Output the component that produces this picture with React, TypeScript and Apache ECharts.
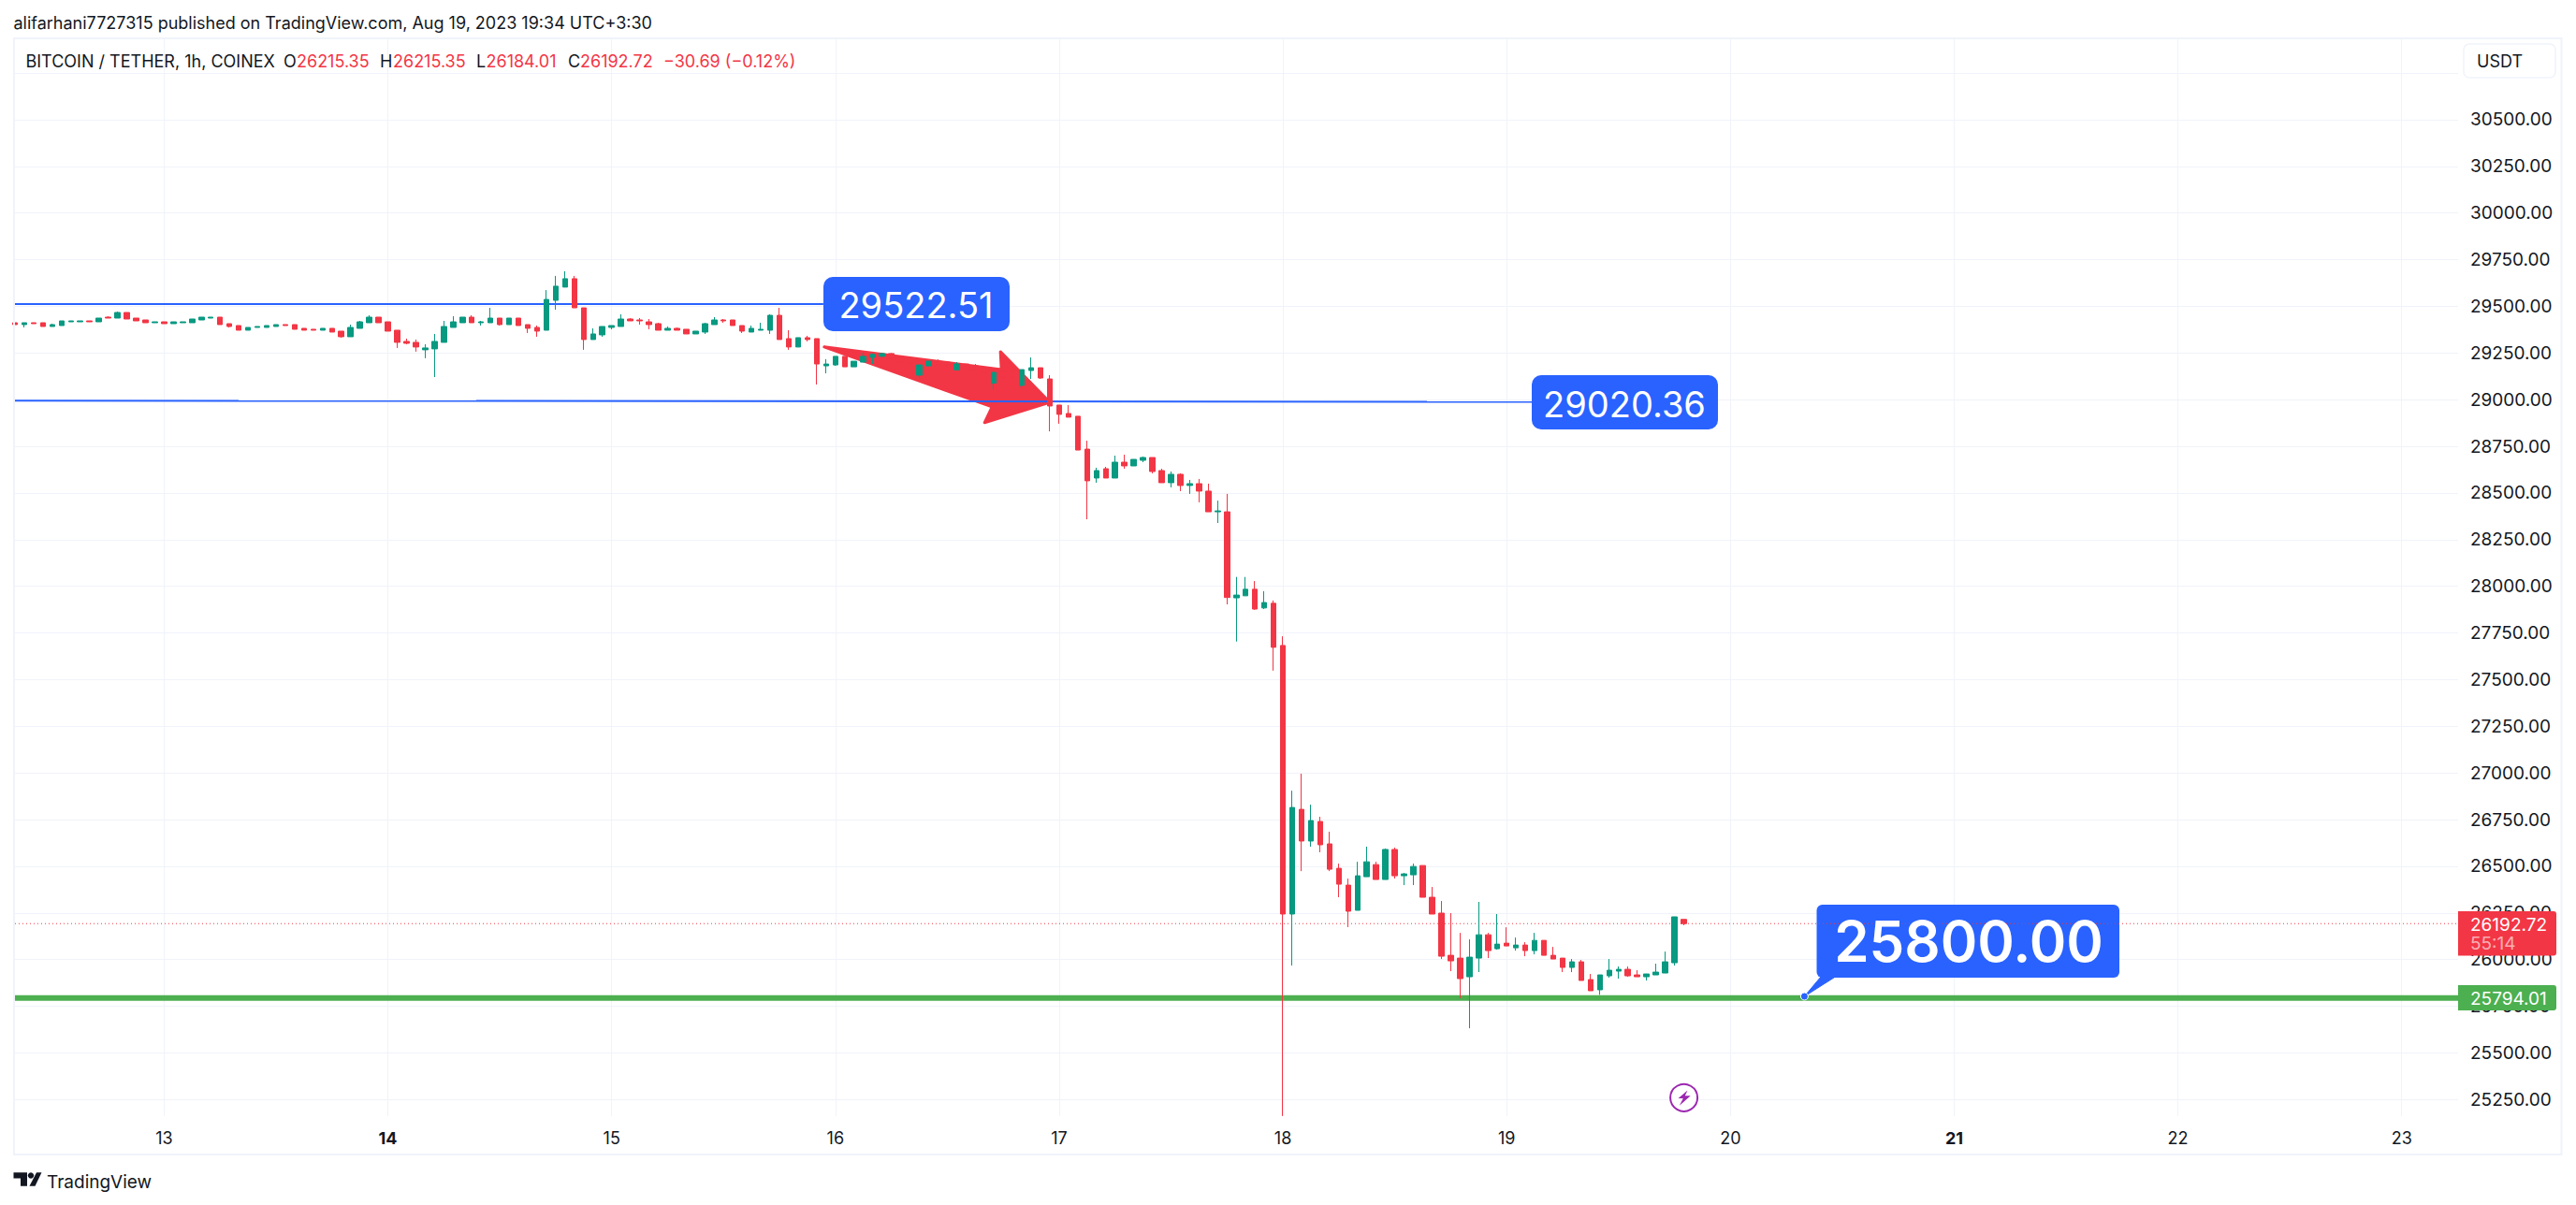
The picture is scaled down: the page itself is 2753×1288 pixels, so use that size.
import React, { useEffect, useRef } from "react";
import * as echarts from "echarts";

const RED = "#F23645";
const GREEN = "#089981";
const BLUE = "#2962FF";
const LEVEL = "#4CAF50";
const INK = "#131722";
const GRID = "#F0F3FA";
const FONT = "Inter, sans-serif";

const firstHour = -16;
// open, close, low, high for each hourly candle
const ohlc: number[][] = [
  [29412,29402,29402,29412],[29402,29412,29387,29412],[29412,29407,29407,29412],[29412,29392,29392,29412],
  [29392,29402,29392,29407],[29397,29422,29397,29422],[29417,29422,29417,29422],[29417,29422,29417,29422],
  [29422,29417,29417,29422],[29417,29437,29417,29437],[29442,29437,29437,29447],[29437,29467,29437,29472],
  [29467,29432,29432,29467],[29437,29422,29422,29437],[29427,29412,29412,29427],[29412,29417,29412,29417],
  [29417,29407,29407,29417],[29407,29417,29407,29417],[29412,29417,29412,29417],[29412,29432,29412,29432],
  [29427,29442,29427,29442],[29437,29442,29437,29442],[29442,29402,29402,29442],[29407,29392,29387,29407],
  [29397,29372,29372,29397],[29372,29387,29372,29387],[29387,29392,29387,29392],[29387,29397,29387,29397],
  [29392,29402,29392,29402],[29402,29397,29397,29402],[29402,29377,29377,29402],[29382,29372,29372,29382],
  [29377,29372,29372,29377],[29372,29382,29372,29382],[29382,29362,29362,29382],[29367,29337,29332,29367],
  [29337,29387,29337,29402],[29382,29417,29382,29422],[29412,29442,29412,29452],[29442,29412,29412,29442],
  [29417,29367,29367,29417],[29372,29307,29277,29372],[29312,29302,29297,29327],[29307,29282,29257,29322],
  [29267,29277,29222,29297],[29272,29312,29121,29352],[29307,29392,29307,29422],[29387,29417,29387,29447],
  [29412,29442,29412,29442],[29442,29412,29412,29452],[29412,29417,29397,29422],[29412,29437,29412,29492],
  [29437,29402,29397,29437],[29402,29437,29402,29437],[29437,29397,29397,29437],[29402,29382,29357,29402],
  [29387,29367,29337,29397],[29372,29537,29372,29587],[29532,29608,29482,29663],[29603,29648,29603,29688],
  [29648,29492,29492,29663],[29492,29322,29267,29492],[29322,29352,29322,29382],[29347,29392,29337,29392],
  [29387,29397,29377,29397],[29392,29432,29392,29457],[29432,29422,29422,29437],[29427,29422,29402,29437],
  [29417,29402,29377,29432],[29407,29372,29372,29412],[29372,29382,29372,29392],[29382,29372,29372,29387],
  [29377,29352,29352,29377],[29352,29367,29352,29367],[29362,29407,29352,29412],[29402,29427,29402,29442],
  [29427,29422,29412,29432],[29427,29397,29397,29427],[29397,29367,29357,29397],[29362,29382,29362,29397],
  [29372,29377,29372,29412],[29372,29452,29352,29457],[29452,29322,29322,29492],[29327,29282,29267,29372],
  [29282,29332,29282,29332],[29332,29322,29312,29342],[29327,29191,29081,29327],[29181,29191,29141,29217],
  [29186,29232,29181,29232],[29232,29176,29176,29232],[29176,29206,29176,29206],[29201,29232,29201,29252],
  [29227,29242,29191,29247],[29232,29247,29232,29252],[29247,29220,29220,29250],[29228,29203,29195,29232],
  [29223,29195,29190,29228],[29131,29186,29116,29186],[29181,29206,29181,29206],[29206,29186,29186,29216],
  [29201,29186,29180,29206],[29160,29191,29160,29201],[29191,29161,29161,29191],[29181,29161,29161,29191],
  [29170,29145,29145,29175],[29088,29146,29056,29146],[29153,29120,29115,29160],[29150,29120,29110,29155],
  [29076,29161,29061,29161],[29156,29171,29111,29226],[29171,29116,29111,29171],[29111,28966,28830,29131],
  [28971,28921,28871,28971],[28926,28906,28906,28971],[28911,28730,28730,28911],[28735,28565,28359,28780],
  [28580,28620,28555,28635],[28630,28580,28580,28640],[28580,28665,28580,28700],[28665,28645,28630,28705],
  [28645,28680,28645,28680],[28675,28690,28665,28695],[28690,28615,28605,28690],[28620,28555,28555,28630],
  [28555,28600,28530,28615],[28600,28540,28510,28605],[28540,28550,28495,28570],[28550,28510,28450,28575],
  [28510,28399,28399,28550],[28399,28404,28339,28459],[28399,27940,27903,28495],[27938,27953,27704,28050],
  [27949,27984,27949,28050],[27984,27878,27874,28028],[27884,27913,27878,27974],[27909,27673,27548,27924],
  [27683,26244,25162,27732],[26244,26815,25968,26905],[26805,26635,26474,26996],[26635,26745,26605,26830],
  [26740,26615,26575,26765],[26620,26484,26474,26685],[26489,26404,26334,26514],[26399,26259,26174,26434],
  [26264,26449,26264,26524],[26444,26524,26444,26605],[26509,26429,26429,26524],[26429,26590,26429,26595],
  [26590,26449,26434,26600],[26449,26459,26399,26464],[26454,26499,26399,26514],[26504,26334,26334,26504],
  [26334,26244,26244,26389],[26249,26018,26003,26314],[26023,25993,25938,26249],[26008,25898,25793,26143],
  [25908,26013,25632,26108],[26008,26133,25933,26309],[26133,26048,26008,26143],[26058,26083,26053,26244],
  [26088,26073,26073,26173],[26063,26078,26048,26118],[26078,26048,26018,26093],[26048,26103,26028,26143],
  [26103,26023,26023,26103],[26023,26003,26003,26068],[26008,25958,25933,26008],[25958,25988,25933,26003],
  [25988,25888,25888,25998],[25893,25833,25833,25923],[25838,25918,25811,25918],[25913,25943,25903,26003],
  [25938,25948,25898,25963],[25948,25913,25908,25963],[25918,25908,25908,25943],[25908,25923,25888,25923],
  [25918,25933,25918,25978],[25928,25988,25928,26043],[25983,26229,25968,26229],[26215.35,26192.72,26184.01,26215.35],
];

const dayLabels = ["13", "14", "15", "16", "17", "18", "19", "20", "21", "22", "23"];
const boldDays = ["14", "21"];
const priceTicks = [25250, 25500, 25750, 26000, 26250, 26500, 26750, 27000, 27250, 27500, 27750, 28000, 28250, 28500, 28750, 29000, 29250, 29500, 29750, 30000, 30250, 30500, 30750];
const hiddenPriceLabel = 30750;

const upperLinePrice = [29512, 29512];
const upperLineEnd = 70.7;
const lowerLinePrice = [28995, 28988];
const lowerLineEnd = 146.7;
const supportPrice = 25794.01;
const lastPrice = 26192.72;
const arrowHours = [70.8, 89.8, 89.7, 95.0, 88.0, 88.8];
const arrowPrices = [29283, 29161, 29257, 28986, 28877, 28961];

const X_MIN = -16;
const X_MAX = 246.05;
const Y_MIN = 25161.3;
const Y_MAX = 30930.7;

function label(text: string, x: number, y: number, fontSize: number, fill: string, extra: any = {}) {
  return {
    type: "text", x, y, z: 20,
    style: { text, fontSize, fill, fontFamily: FONT, textVerticalAlign: "middle", textBaseline: "middle", ...extra },
  };
}

export default function App() {
  const ref = useRef<HTMLDivElement>(null);
  useEffect(() => {
    const chart = echarts.init(ref.current!, undefined, { renderer: "svg" });
    const candleData = ohlc.map((r, i) => [firstHour + i, r[0], r[1], r[2], r[3]]);
    const plainLine = (data: number[][], color: string, width: number, z: number, type: any = "solid") => ({
      type: "line", data, symbol: "none", silent: true, z, animation: false,
      lineStyle: { color, width, type }, itemStyle: { color },
    });

    chart.setOption({
      animation: false,
      backgroundColor: "#ffffff",
      textStyle: { fontFamily: FONT },
      grid: { left: 16, top: 42, width: 2611, height: 1151, containLabel: false, show: false },
      xAxis: {
        type: "value", min: X_MIN, max: X_MAX, position: "bottom", scale: true,
        axisLine: { show: false },
        axisTick: { show: false, customValues: dayLabels.map((_, i) => i * 24) },
        splitLine: { show: true, lineStyle: { color: GRID, width: 1 } },
        axisLabel: {
          show: true, margin: 14, fontFamily: FONT, fontSize: 18, color: INK,
          customValues: dayLabels.map((_, i) => i * 24),
          formatter: (v: number) => {
            const t = dayLabels[Math.round(v / 24)] ?? "";
            return boldDays.includes(t) ? `{b|${t}}` : t;
          },
          rich: { b: { fontFamily: FONT, fontSize: 18, fontWeight: 700, color: INK } },
        },
      },
      yAxis: {
        type: "value", min: Y_MIN, max: Y_MAX, position: "right", scale: true,
        axisLine: { show: false },
        axisTick: { show: false, customValues: priceTicks },
        splitLine: { show: true, lineStyle: { color: GRID, width: 1 } },
        axisLabel: {
          show: true, margin: 13, fontFamily: FONT, fontSize: 19, color: INK,
          customValues: priceTicks,
          formatter: (v: number) => (v === hiddenPriceLabel ? "" : v.toFixed(2)),
        },
      },
      series: [
        {
          type: "custom", z: 1, silent: true, data: arrowHours.map((h, i) => [h, arrowPrices[i]]),
          encode: { x: 0, y: 1 }, clip: false,
          renderItem: (params: any, api: any) => {
            if (params.dataIndex !== 0) return null;
            const points = arrowHours.map((h, i) => api.coord([h, arrowPrices[i]]));
            return {
              type: "polygon", shape: { points },
              style: { fill: RED, stroke: RED, lineWidth: 3, lineJoin: "round" },
            };
          },
        },
        plainLine([[X_MIN, upperLinePrice[0]], [upperLineEnd, upperLinePrice[1]]], BLUE, 2, 2),
        plainLine([[X_MIN, lowerLinePrice[0]], [lowerLineEnd, lowerLinePrice[1]]], BLUE, 2, 2),
        plainLine([[X_MIN, supportPrice], [X_MAX, supportPrice]], LEVEL, 6, 2),
        plainLine([[X_MIN, lastPrice], [X_MAX, lastPrice]], RED, 1, 4, [1, 3]),
        {
          type: "candlestick", z: 5, silent: true, barWidth: 6, data: candleData,
          itemStyle: { color: GREEN, color0: RED, borderColor: GREEN, borderColor0: RED, borderWidth: 1 },
        },
      ],
      graphic: [
        // outer panel
        { type: "rect", z: 9, silent: true, shape: { x: 15, y: 41, width: 2722.5, height: 1193 }, style: { fill: "none", stroke: GRID, lineWidth: 2 } },
        // drawing callouts
        { type: "rect", z: 3, shape: { x: 880, y: 296, width: 199, height: 58, r: 10 }, style: { fill: BLUE } },
        { ...label("29522.51", 979, 326, 38, "#ffffff", { textAlign: "center" }), z: 6 },
        { type: "rect", z: 3, shape: { x: 1637, y: 401, width: 199, height: 58, r: 10 }, style: { fill: BLUE } },
        { ...label("29020.36", 1736, 431.5, 38, "#ffffff", { textAlign: "center" }), z: 6 },
        { type: "polygon", z: 3, shape: { points: [[1946, 1044], [1961.5, 1044], [1928.4, 1065]] }, style: { fill: BLUE, stroke: BLUE, lineWidth: 1 } },
        { type: "rect", z: 3, shape: { x: 1941.5, y: 967, width: 323.5, height: 78, r: 6 }, style: { fill: BLUE } },
        { ...label("25800.00", 2104, 1006, 60, "#ffffff", { textAlign: "center", fontWeight: 600 }), z: 6 },
        { type: "circle", z: 6, shape: { cx: 1928.4, cy: 1065, r: 4 }, style: { fill: BLUE, stroke: "#ffffff", lineWidth: 1 } },
        // lightning marker
        { type: "circle", z: 6, shape: { cx: 1799.6, cy: 1173.3, r: 14.5 }, style: { fill: "#ffffff", stroke: "#9C27B0", lineWidth: 2 } },
        { type: "polygon", z: 7, shape: { points: [[1803.5, 1165.6], [1793.6, 1174.1], [1798.8, 1174.1], [1794.9, 1181.7], [1806.7, 1171.3], [1800.8, 1171.3]] }, style: { fill: "#9C27B0" } },
        // price tags
        { type: "rect", z: 10, shape: { x: 2627, y: 974, width: 105, height: 47.5, r: [0, 3, 3, 0] }, style: { fill: RED } },
        label("26192.72", 2640, 988, 19, "#ffffff"),
        label("55:14", 2640, 1008.5, 19, "rgba(255,255,255,0.6)"),
        { type: "rect", z: 10, shape: { x: 2627, y: 1053, width: 105, height: 27, r: [0, 3, 3, 0] }, style: { fill: LEVEL } },
        label("25794.01", 2640, 1067, 19, "#ffffff"),
        // currency button
        { type: "rect", z: 10, shape: { x: 2633, y: 47, width: 98, height: 36, r: 6 }, style: { fill: "#ffffff", stroke: GRID, lineWidth: 1.5 } },
        label("USDT", 2647, 65, 18, INK),
        // header texts
        label("alifarhani7727315 published on TradingView.com, Aug 19, 2023 19:34 UTC+3:30", 14.5, 24, 18, INK),
        label("BITCOIN / TETHER, 1h, COINEX", 27.5, 65.5, 18, INK),
        label("O", 303, 65.5, 18, INK),
        label("26215.35", 317, 65.5, 18, RED),
        label("H", 406, 65.5, 18, INK),
        label("26215.35", 420, 65.5, 18, RED),
        label("L", 509, 65.5, 18, INK),
        label("26184.01", 519.5, 65.5, 18, RED),
        label("C", 607, 65.5, 18, INK),
        label("26192.72", 620, 65.5, 18, RED),
        label("\u221230.69 (\u22120.12%)", 709, 65.5, 18, RED),
        // footer logo
        { type: "polygon", z: 20, shape: { points: [[14.5, 1253.3], [29, 1253.3], [29, 1267.7], [22, 1267.7], [22, 1259.5], [14.5, 1259.5]] }, style: { fill: INK } },
        { type: "circle", z: 20, shape: { cx: 33, cy: 1256.5, r: 3.2 }, style: { fill: INK } },
        { type: "polygon", z: 20, shape: { points: [[39, 1253.3], [44.5, 1253.3], [37.5, 1267.7], [31.5, 1267.7]] }, style: { fill: INK } },
        label("TradingView", 50, 1263, 19, INK),
      ],
    });
    return () => chart.dispose();
  }, []);
  return <div ref={ref} style={{ position: "fixed", left: 0, top: 0, width: 2753, height: 1288, background: "#fff" }} />;
}
